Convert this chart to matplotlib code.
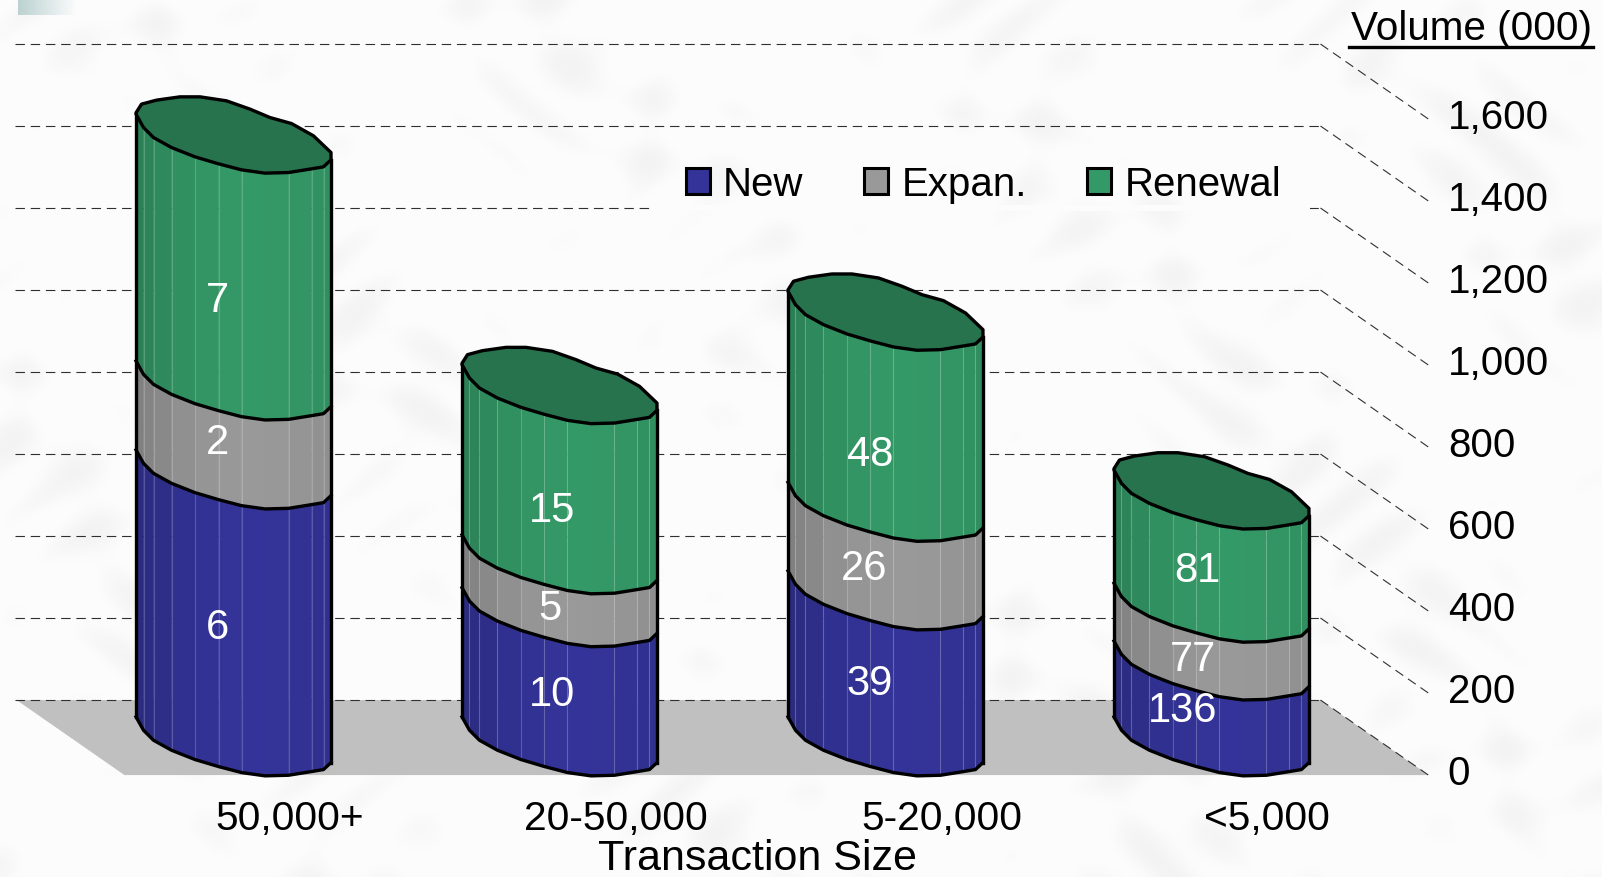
#!/usr/bin/env python3
# -*- coding: utf-8 -*-
from matplotlib import pyplot as plt
from matplotlib.colors import LinearSegmentedColormap, to_rgb
from matplotlib.patches import Patch, Polygon, Rectangle
import numpy as np

categories = ['50,000+', '20-50,000', '5-20,000', '<5,000']
series_names = ['New', 'Expan.', 'Renewal']

# bar heights
new_volume = [651, 315, 356, 185]
expan_volume = [217, 129, 216, 141]
renewal_volume = [602, 415, 466, 276]

# numbers printed on the bars (not the same thing as the heights)
new_labels = ['6', '10', '39', '136']
expan_labels = ['2', '5', '26', '77']
renewal_labels = ['7', '15', '48', '81']

volume_ticks = [0, 200, 400, 600, 800, 1000, 1200, 1400, 1600]
volume_ticklabels = ['0', '200', '400', '600', '800', '1,000', '1,200', '1,400', '1,600']

# layout
BG = '#fbfbfb'
FONT = 'Liberation Sans'
DEPTH_X = 0.1656
DEPTH_Y = 91.5
PX_X = 326.0   # pixels per category
PX_Y = 0.41    # pixels per volume unit
colors = ['#333399', '#999999', '#339966']
top_color = '#26734d'
dash = (0, (8.5, 5.2))

# faceted outline of the cylinder, pixels from its centre, right to left
front_dx = np.array([97.5, 90, 78, 55, 31.5, 8, -15, -38.5, -62, -80, -90, -97.5])
front_dy = np.array([25, 32, 34, 37.7, 38.3, 35, 29, 22, 12.7, 2.7, -7.3, -20.7])
back_dx = np.array([97.5, 80, 58, 36.5, 16.5, -7, -33.5, -53.5, -77, -92, -97.5])
back_dy = np.array([17.7, 1, -11.3, -17.3, -25.7, -34, -38, -38, -34.7, -30.7, -22])

label_dx = [[-0.05, -0.05, -0.05], [-0.023, -0.03, -0.023], [-0.048, -0.066, -0.048], [-0.087, -0.057, -0.044]]
label_dy = [[-56, -39, -103], [-51, -64, -97], [-45, -51, -113], [-25, -64, -55]]


def shade(color, dx):
    return tuple(np.array(to_rgb(color)) * (0.83 + 0.17 * (1 - ((dx - 20) / 117.0) ** 2)))


def draw_bar(ax, x, stacks):
    xs = x + front_dx / PX_X
    offs = -front_dy / PX_Y

    bottom = 0
    for h, color in stacks:
        top = bottom + h
        for i in range(len(xs) - 1):
            pts = [(xs[i], bottom + offs[i]), (xs[i + 1], bottom + offs[i + 1]),
                   (xs[i + 1], top + offs[i + 1]), (xs[i], top + offs[i])]
            c = shade(color, (front_dx[i] + front_dx[i + 1]) / 2)
            ax.add_patch(Polygon(pts, closed=True, fc=c, ec=c, lw=0.3, zorder=5))
        for i in range(1, len(xs) - 1):
            if i == 4:
                continue
            ax.plot([xs[i], xs[i]], [bottom + offs[i], top + offs[i]], color='white', alpha=0.2, lw=0.8, zorder=6)
        ax.plot(xs, bottom + offs, color='black', lw=2.4, zorder=8, solid_joinstyle='round')
        bottom = top

    # sides and lid
    ax.plot([xs[0], xs[0]], [offs[0], bottom + offs[0]], color='black', lw=2.4, zorder=8)
    ax.plot([xs[-1], xs[-1]], [offs[-1], bottom + offs[-1]], color='black', lw=2.4, zorder=8)
    lid_x = np.concatenate([xs, x + back_dx[::-1] / PX_X])
    lid_y = np.concatenate([bottom + offs, bottom - back_dy[::-1] / PX_Y])
    ax.add_patch(Polygon(np.column_stack([lid_x, lid_y]), closed=True, fc=top_color, ec='black', lw=2.4, zorder=9,
                         joinstyle='round'))


fig = plt.figure(figsize=(16.02, 8.78), dpi=100, facecolor=BG)

# faint mottling of the slide background
paper = fig.add_axes([0, 0, 1, 1], zorder=0)
yy, xx = np.mgrid[0:878:4, 0:1602:4]
mottle = (np.sin(xx / 23.0 + 2 * np.sin(yy / 41.0)) * np.sin(yy / 19.0 + 2 * np.sin(xx / 53.0))
          + 0.6 * np.sin(xx / 67.0 - yy / 89.0))
paper.imshow(np.clip(mottle - 0.5, 0, None), cmap=LinearSegmentedColormap.from_list('p', ['#fcfcfc', '#f3f3f3']),
             aspect='auto', vmin=0, vmax=1.1, interpolation='bilinear')
paper.axis('off')

ax = fig.add_axes([0, 0, 1, 1], zorder=1)
ax.patch.set_alpha(0)
ax.set_xlim(-0.7163, 4.198)
ax.set_ylim(-340.1, 1801.3)
ax.axis('off')

# floor
ax.add_patch(Polygon([(-0.5 - DEPTH_X, DEPTH_Y), (3.5 - DEPTH_X, DEPTH_Y), (3.5 + DEPTH_X, -DEPTH_Y), (-0.5 + DEPTH_X, -DEPTH_Y)],
                     closed=True, fc='#c0c0c0', ec='none', zorder=1))

# back wall grid and the diagonals down to the scale
for v in volume_ticks:
    ax.plot([-0.5 - DEPTH_X - 0.005, 3.5 - DEPTH_X], [v + DEPTH_Y, v + DEPTH_Y], color='#303030', lw=0.8, ls=dash, zorder=2)
    ax.plot([3.5 - DEPTH_X, 3.5 + DEPTH_X], [v + DEPTH_Y, v - DEPTH_Y], color='#303030', lw=0.8, ls=dash, zorder=2)

# the legend's box hides part of the 1,200 line, only that strip is kept plain
ax.add_patch(Rectangle((1.283, 1192 + DEPTH_Y), 2.02, 16, fc='#fcfcfc', ec='none', zorder=3))

for i, x in enumerate(range(len(categories))):
    draw_bar(ax, x, [(new_volume[i], colors[0]), (expan_volume[i], colors[1]), (renewal_volume[i], colors[2])])
    bottom = 0
    for j, (h, lab) in enumerate(zip([new_volume[i], expan_volume[i], renewal_volume[i]],
                                     [new_labels[i], expan_labels[i], renewal_labels[i]])):
        ax.text(x + label_dx[i][j], bottom + h / 2 + label_dy[i][j], lab, color='white', fontsize=30, family=FONT,
                ha='center', va='center', zorder=12)
        bottom += h
    ax.text(x + DEPTH_X + 0.006, -DEPTH_Y - 105, categories[i], fontsize=29.3, family=FONT, ha='center', va='center', zorder=12)

ax.text(1.608, -DEPTH_Y - 202, 'Transaction Size', fontsize=31, family=FONT, ha='center', va='center', zorder=12)

for v, lab in zip(volume_ticks, volume_ticklabels):
    ax.text(3.725, v - DEPTH_Y + 5, lab, fontsize=29, family=FONT, ha='left', va='center', zorder=12)

ax.text(0.9935, 0.967, 'Volume (000)', transform=ax.transAxes, fontsize=29.2, family=FONT, ha='right', va='center', zorder=12)
ax.plot([1349 / 1602, 1593 / 1602], [1 - 48 / 878, 1 - 48 / 878], transform=ax.transAxes, color='black', lw=2.4, zorder=12)

handles = [Patch(fc=c, ec='black', lw=2.2) for c in colors]
leg = ax.legend(handles, series_names, ncol=3, frameon=False, loc='center left', bbox_to_anchor=(0.428, 0.7891),
                bbox_transform=ax.transAxes, prop={'family': FONT, 'size': 29},
                handlelength=0.6, handleheight=0.62, handletextpad=0.33, columnspacing=1.5, borderpad=0, borderaxespad=0)
leg.set_zorder(12)

# pale scrap of the slide background in the corner
corner = fig.add_axes([18 / 1602, 1 - 16 / 878, 58 / 1602, 16 / 878], zorder=2)
corner.imshow(np.linspace(0, 1, 58).reshape(1, -1), cmap=LinearSegmentedColormap.from_list('c', ['#bcd2d2', BG]),
              aspect='auto')
corner.axis('off')

plt.savefig('out.png', dpi=100, facecolor=BG)
